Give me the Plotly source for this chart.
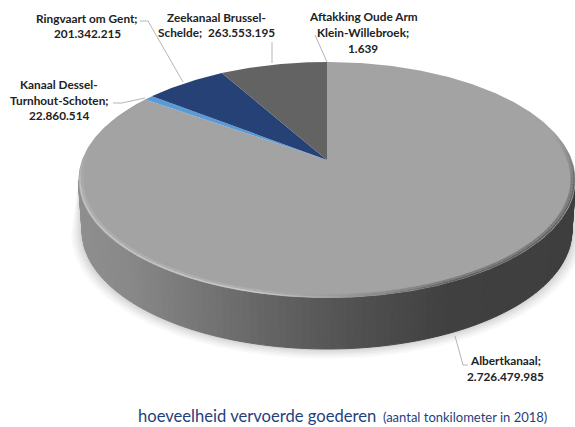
import numpy as np
import plotly.graph_objects as go

# ---- data (clockwise from 12 o'clock) ----
categories = ["Albertkanaal", "Kanaal Dessel-Turnhout-Schoten", "Ringvaart om Gent",
              "Zeekanaal Brussel-Schelde", "Aftakking Oude Arm Klein-Willebroek"]
values = [2726479985, 22860514, 201342215, 263553195, 1639]
slice_colors = ["#a3a3a3", "#5b9bd5", "#254175", "#636363", "#636363"]
title_main = "hoeveelheid vervoerde goederen"
title_sub = "(aantal tonkilometer in 2018)"

W, H = 575, 427
CX, CY = 327.0, 160.0      # apex of the pie
K = 0.1695                 # perspective strength
B = 114.6                  # vertical scale
R = 245.0                  # horizontal scale
DEPTH = 51.0
XS = 0.985


def project(theta, r=1.0):
    """theta clockwise from top, r radial fraction of the disc."""
    u = r * np.sin(theta)
    v = -r * np.cos(theta)
    s = 1.0 / (1.0 - K * v)
    return CX + R * u * s, CY + B * v * s


def side_point(theta):
    x, y = project(theta)
    return CX + (x - CX) * XS, y + DEPTH


fig = go.Figure()


def poly(x, y, color, line=None, lw=1.3):
    fig.add_trace(go.Scatter(x=list(x) + [x[0]], y=list(y) + [y[0]], mode="lines",
                             fill="toself", fillcolor=color,
                             line=dict(width=lw if line else 0, color=line or color),
                             hoverinfo="skip", showlegend=False))


def ramp(stops, x):
    xs = [s[0] for s in stops]
    g = np.interp(x, xs, [s[1] for s in stops])
    return f"rgb({g:.0f},{g:.0f},{g:.0f})"


# visible side runs from the rightmost to the leftmost silhouette point
ths = np.linspace(0, 2 * np.pi, 721)
px, py = project(ths)
th_right = ths[np.argmax(px[:360])]
th_left = ths[360 + np.argmin(px[360:])]

# soft shadow below the disc
side_th = np.linspace(th_right, th_left, 90)
for grow, alpha in [(11, .022), (9, .025), (7, .03), (5, .03), (3, .035), (1.5, .04)]:
    sx, sy = side_point(side_th)
    sx = CX + (sx - CX) * (1 + grow / 245)
    sy = sy + grow * 0.9 * np.clip(-np.cos(side_th) * 0.8 + 0.2, 0, 1)
    tx, ty = project(side_th[::-1])
    poly(np.r_[sx, tx], np.r_[sy, ty], f"rgba(0,0,0,{alpha})")

# gradient side wall
side_stops = [(80, 143), (130, 136), (200, 118), (260, 102), (330, 86), (400, 72), (450, 64), (580, 62)]
edges = np.linspace(th_right, th_left, 110)
for a, b in zip(edges[:-1], edges[1:]):
    t = np.array([a, b])
    ax, ay = project(t)
    bx, by = side_point(t)
    col = ramp(side_stops, (ax.mean() + bx.mean()) / 2)
    poly(np.r_[ax, bx[::-1]], np.r_[ay, by[::-1]], col, line=col, lw=1.0)

# top-face slices
fractions = np.array(values) / np.sum(values)
starts = np.r_[0, np.cumsum(fractions)[:-1]] * 2 * np.pi
ends = np.cumsum(fractions) * 2 * np.pi
for a, b, col in zip(starts, ends, slice_colors):
    t = np.linspace(a, b, max(3, int((b - a) * 80)))
    x, y = project(t)
    poly(np.r_[CX, x], np.r_[CY, y], col)

# bevel on the rim of the large slice
rim = np.linspace(np.pi * 0.42, starts[1] - 0.05, 150)
FACE = 163
for r, wid, light, dark in [(0.986, 3.0, 174, 124), (0.994, 1.3, 202, 92)]:
    for a, b in zip(rim[:-1], rim[1:]):
        t = np.array([a, b])
        x, y = project(t, r)
        w = np.clip((a - np.pi * 0.85) / (np.pi * 0.22), 0, 1)
        g = dark + (light - dark) * w
        fade_in = np.clip((a - np.pi * 0.42) / 0.45, 0, 1)
        fade_out = np.clip((np.pi * 1.52 - a) / 0.35, 0, 1)
        f = fade_in * fade_out
        g = g * f + FACE * (1 - f)
        fig.add_trace(go.Scatter(x=x, y=y, mode="lines",
                                 line=dict(width=wid, color=f"rgb({g:.0f},{g:.0f},{g:.0f})"),
                                 hoverinfo="skip", showlegend=False))

TXT = "#222222"
FONT = "Lato"
labels = [
    (87, 18, "Ringvaart om Gent;"), (87, 33, "201.342.215"),
    (216, 17, "Zeekanaal Brussel-"), (216, 32, "Schelde;  263.553.195"),
    (363, 16, "Aftakking Oude Arm"), (363, 32, "Klein-Willebroek;"), (363, 48, "1.639"),
    (59, 84, "Kanaal Dessel-"), (59, 100, "Turnhout-Schoten;"), (59, 115, "22.860.514"),
    (505, 360, "Albertkanaal;"), (505, 376, "2.726.479.985"),
]
annotations = [dict(x=x, y=y, text=f"<b>{t}</b>", xref="x", yref="y", showarrow=False,
                    xanchor="center", yanchor="middle",
                    font=dict(family=FONT, size=11.8, color=TXT)) for x, y, t in labels]
annotations.append(dict(x=136, y=416, xref="x", yref="y", showarrow=False, xanchor="left", yanchor="middle",
                        text=f"<span style='font-size:16.6px'>{title_main}</span>"
                             f"<span style='font-size:13px'>  {title_sub}</span>",
                        font=dict(family=FONT, size=16.6, color="#1f3f7f")))

leaders = [
    "M140,21 L148,21 L183,82",
    "M272,42 L272,63",
    "M315,35 L327,62",
    "M113,103 L122,103 L145,98",
    "M455,336 L463,365 L468,365",
]
shapes = [dict(type="path", path=p, xref="x", yref="y",
               line=dict(color="#b5b5b5", width=1), layer="above") for p in leaders]

fig.update_layout(
    width=W, height=H, margin=dict(l=0, r=0, t=0, b=0),
    paper_bgcolor="white", plot_bgcolor="white",
    xaxis=dict(range=[0, W], visible=False, fixedrange=True),
    yaxis=dict(range=[H, 0], visible=False, fixedrange=True),
    annotations=annotations, shapes=shapes, showlegend=False,
)
fig.write_html("out.html", config=dict(displayModeBar=False),
               post_script="document.body.style.margin='0';document.body.style.overflow='hidden';")
